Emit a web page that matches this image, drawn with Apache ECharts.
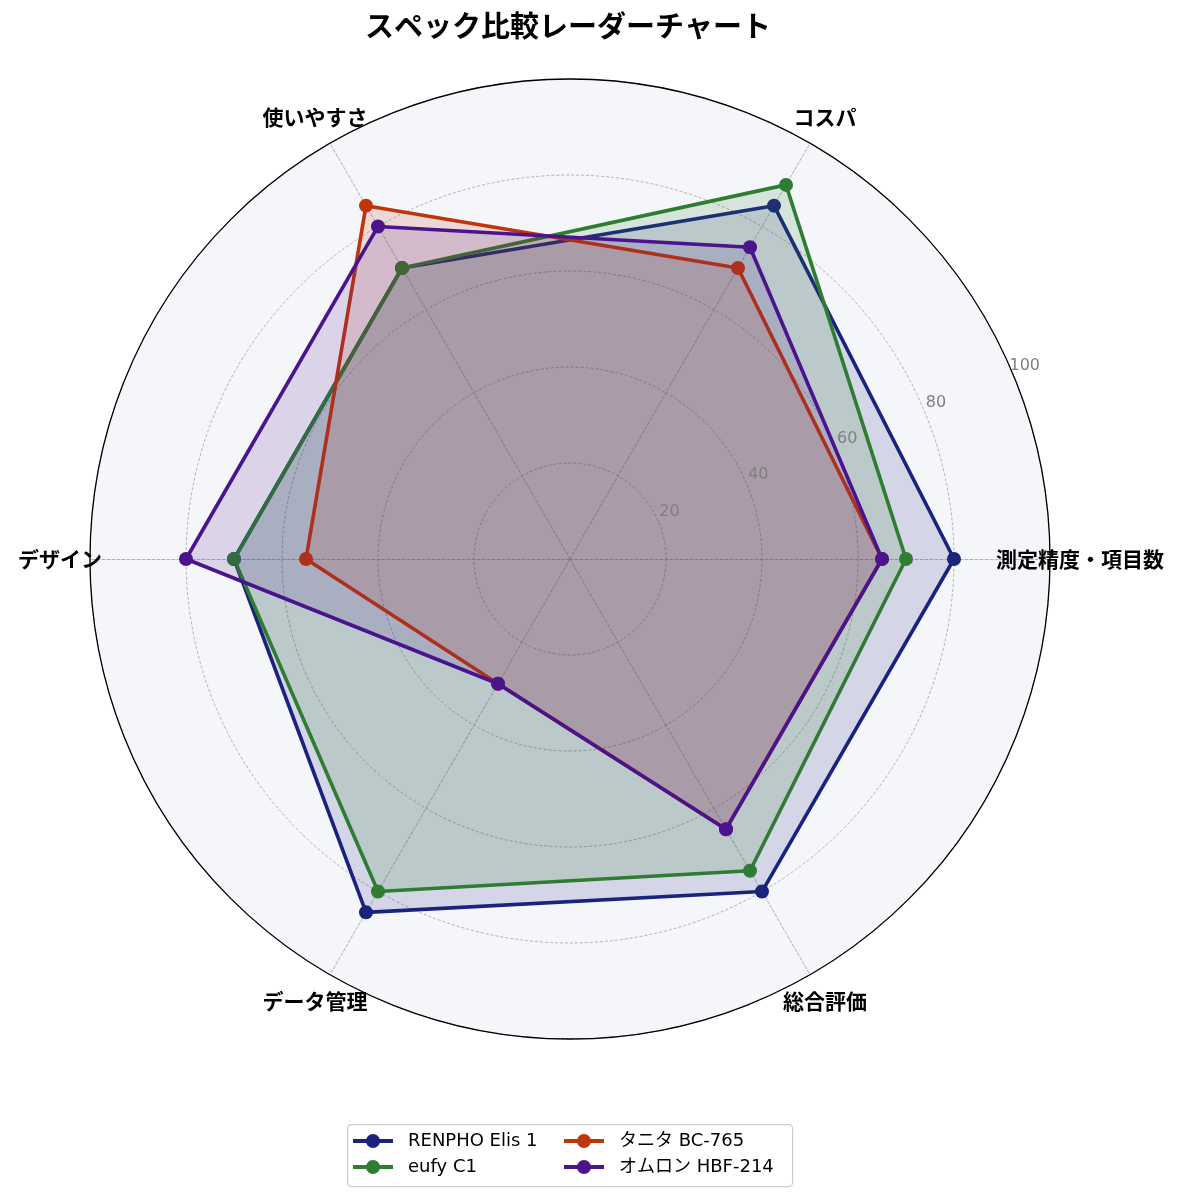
<!DOCTYPE html>
<html><head><meta charset="utf-8">
<script src="https://cdn.jsdelivr.net/npm/echarts@6/dist/echarts.min.js"></script>
<style>html,body{margin:0;padding:0;background:#fff}#c{width:1184px;height:1202px}</style>
</head><body><div id="c"></div>
<script>
const categories = ['測定精度・項目数', 'コスパ', '使いやすさ', 'デザイン', 'データ管理', '総合評価'];
const seriesNames = ['RENPHO Elis 1', 'eufy C1', 'タニタ BC-765', 'オムロン HBF-214'];
const renpho = [80, 85, 70, 70, 85, 80];
const eufy = [70, 90, 70, 70, 80, 75];
const tanita = [65, 70, 85, 55, 30, 65];
const omron = [65, 75, 80, 80, 30, 65];
const radialTicks = [0, 20, 40, 60, 80, 100];
const colors = ['#1a237e', '#2e7d32', '#bf360c', '#4a148c'];
const values = [renpho, eufy, tanita, omron];

const FONT = '"Noto Sans CJK JP", "Noto Sans", sans-serif';
const LFONT = '"DejaVu Sans", "Noto Sans CJK JP", sans-serif';
const chart = echarts.init(document.getElementById('c'), null, {renderer: 'canvas'});
const legendIcon = 'path://M0,5h40v4h-40z M20,0a7,7 0 1,1 0,14a7,7 0 1,1 0,-14z M50,7h0.01v0.01h-0.01z';
const RMAX = radialTicks[radialTicks.length - 1];

const legendCommon = {
  orient: 'vertical',
  top: 1130,
  padding: 0,
  itemGap: 4,
  itemWidth: 50, itemHeight: 14,
  icon: legendIcon,
  textStyle: {color: '#000', fontSize: 18, lineHeight: 22, fontFamily: LFONT}
};

chart.setOption({
  backgroundColor: '#ffffff',
  animation: false,
  textStyle: {fontFamily: FONT},
  title: {
    text: 'スペック比較レーダーチャート',
    left: 360, top: 6,
    textStyle: {fontSize: 29, fontWeight: 'bold', color: '#000', fontFamily: FONT}
  },
  radar: {
    center: [570, 559],
    radius: 480,
    startAngle: 0,
    shape: 'circle',
    splitNumber: 5,
    indicator: categories.map(n => ({name: n, min: 0, max: RMAX})),
    nameGap: 30,
    axisName: {color: '#000', fontSize: 21, fontWeight: 'bold', fontFamily: FONT, align: 'center', verticalAlign: 'middle'},
    splitArea: {show: true, areaStyle: {color: ['#f5f6fa']}},
    splitLine: {lineStyle: {color: '#a0a0a0', width: 0.8, type: [3, 2]}},
    axisLine: {lineStyle: {color: '#a0a0a0', width: 0.8, type: [3, 2]}},
    axisTick: {show: false},
    axisLabel: {show: false},
    z: 0
  },
  polar: [
    {center: [570, 559], radius: 480},
    {center: [570, 559], radius: [14, 494]}
  ],
  angleAxis: [
    {
      polarIndex: 0,
      type: 'value', min: 0, max: 360, startAngle: 0, clockwise: false,
      axisLine: {show: true, lineStyle: {color: '#000', width: 1.3}},
      axisTick: {show: false}, axisLabel: {show: false}, splitLine: {show: false},
      z: 5
    },
    {
      polarIndex: 1,
      type: 'value', min: 0, max: 360, startAngle: 22.3, clockwise: false,
      axisLine: {show: false}, axisTick: {show: false}, axisLabel: {show: false}, splitLine: {show: false}
    }
  ],
  radiusAxis: [
    {
      polarIndex: 0, type: 'value', min: 0, max: RMAX,
      axisLine: {show: false}, axisTick: {show: false}, splitLine: {show: false}, axisLabel: {show: false}
    },
    {
      polarIndex: 1, type: 'value', min: radialTicks[0], max: RMAX, interval: 20,
      axisLine: {show: false}, axisTick: {show: false}, splitLine: {show: false},
      axisLabel: {
        color: '#808080', fontSize: 16, fontFamily: LFONT, margin: 6,
        align: 'center', verticalAlign: 'middle',
        formatter: v => (v === 0 ? '' : String(v))
      },
      z: 5
    }
  ],
  graphic: [{
    type: 'rect', left: 347, top: 1124, z: 3,
    shape: {width: 445, height: 62, r: 4},
    style: {fill: '#ffffff', stroke: '#cccccc', lineWidth: 1.2}
  }],
  legend: [
    Object.assign({left: 353, data: [seriesNames[0], seriesNames[1]], z: 10}, legendCommon),
    Object.assign({left: 564, data: [seriesNames[2], seriesNames[3]], z: 10}, legendCommon)
  ],
  series: seriesNames.map((name, i) => ({
    type: 'radar',
    name: name,
    z: 2 + i,
    symbol: 'circle',
    symbolSize: 14,
    itemStyle: {color: colors[i]},
    lineStyle: {color: colors[i], width: 3.6},
    areaStyle: {color: colors[i], opacity: 0.15},
    data: [{value: values[i], name: name}]
  }))
});
</script></body></html>
